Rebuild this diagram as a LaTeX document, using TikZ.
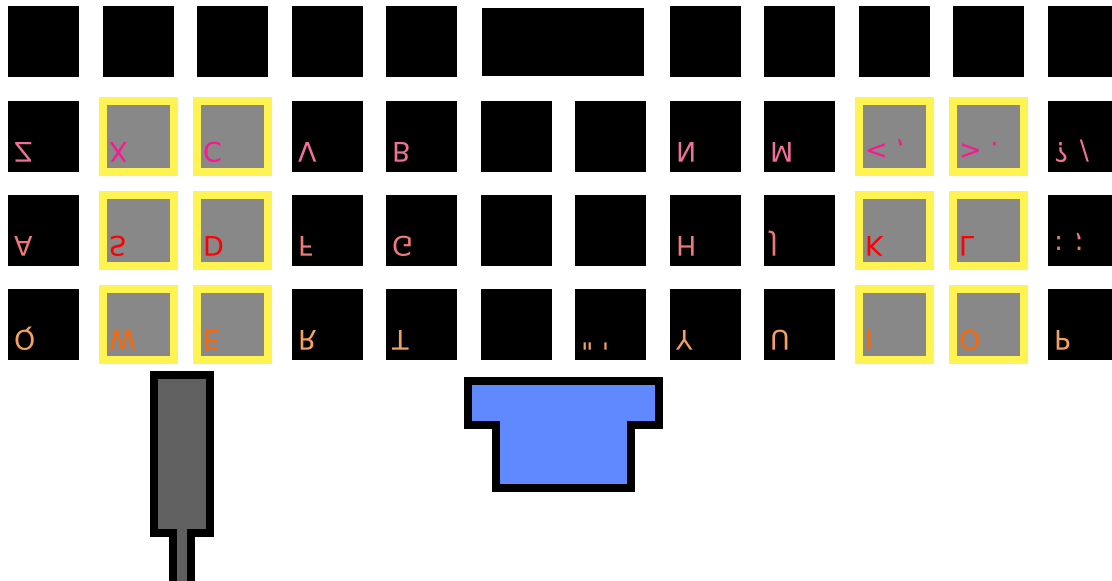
\documentclass[tikz,border=0pt]{standalone}
\usepackage{fontspec}
\newfontfamily\lblfont{DejaVu Sans}
\definecolor{keygray}{HTML}{888888}
\definecolor{hiyellow}{HTML}{FFF352}
\definecolor{pinkA}{HTML}{F0709A}
\definecolor{coralA}{HTML}{F07878}
\definecolor{sandA}{HTML}{F4A060}
\definecolor{pinkB}{HTML}{FF1493}
\definecolor{redB}{HTML}{FF0000}
\definecolor{orangeB}{HTML}{FF6600}
\definecolor{stickgray}{HTML}{606060}
\definecolor{padblue}{HTML}{6088FF}
\begin{document}
\begin{tikzpicture}[x=1pt,y=-1pt,
  keybox/.style={anchor=north west, minimum width=71pt, minimum height=71pt, inner sep=0pt, outer sep=0pt, fill=black},
  hikey/.style={keybox, fill=keygray, draw=hiyellow, line width=8pt},
  widekey/.style={anchor=north west, minimum width=162pt, minimum height=68pt, inner sep=0pt, outer sep=0pt, fill=black},
  keylabel/.style={anchor=base west, inner sep=0pt, outer sep=0pt, yscale=-1, font=\lblfont\fontsize{27}{30}\selectfont},
  outline/.style={draw=black, line width=8pt, line join=miter}]
\useasboundingbox (0,0) rectangle (1112,581);
\clip (0,0) rectangle (1112,581);
% top row
\foreach \c/\x in {1/8,2/103,3/197,4/292,5/386,8/670,9/764,10/859,11/953,12/1048}
  \node[keybox] (k-1-\c) at (\x,6) {};
\node[widekey] (k-1-wide) at (482,8) {};
% rows 2-4
\foreach \r/\y in {2/101,3/195,4/289}{
  \foreach \c/\x in {1/8,4/292,5/386,6/481,7/575,8/670,9/764,12/1048}
    \node[keybox] (k-\r-\c) at (\x,\y) {};
  \foreach \c/\x in {2/103,3/197,10/859,11/953}
    \node[hikey] (k-\r-\c) at (\x,\y) {};
}
% row 2 labels
\foreach \c/\x/\t/\col in {1/8/{Z}/pinkA,2/103/{X}/pinkB,3/197/{C}/pinkB,4/292/{V}/pinkA,5/386/{B}/pinkA,8/670/{N}/pinkA,9/764/{M}/pinkA,10/859/{< ,}/pinkB,11/953/{> .}/pinkB,12/1048/{? /}/pinkA}
  \node[keylabel, text=\col] (l-2-\c) at (\x+6,142) {\t};
% row 3 labels
\foreach \c/\x/\t/\col in {1/8/{A}/coralA,2/103/{S}/redB,3/197/{D}/redB,4/292/{F}/coralA,5/386/{G}/coralA,8/670/{H}/coralA,9/764/{J}/coralA,10/859/{K}/redB,11/953/{L}/redB,12/1048/{: ;}/coralA}
  \node[keylabel, text=\col] (l-3-\c) at (\x+6,236) {\t};
% row 4 labels
\foreach \c/\x/\t/\col in {1/8/{Q}/sandA,2/103/{W}/orangeB,3/197/{E}/orangeB,4/292/{R}/sandA,5/386/{T}/sandA,7/575/{" '}/sandA,8/670/{Y}/sandA,9/764/{U}/sandA,10/859/{I}/orangeB,11/953/{O}/orangeB,12/1048/{P}/sandA}
  \node[keylabel, text=\col] (l-4-\c) at (\x+6,330) {\t};
% stick
\draw[outline, fill=stickgray] (154,375) -- (210,375) -- (210,533) -- (191,533) -- (191,600) -- (173,600) -- (173,533) -- (154,533) -- cycle;
% blue pad
\draw[outline, fill=padblue] (468,381) -- (659,381) -- (659,425) -- (631,425) -- (631,488) -- (496,488) -- (496,425) -- (468,425) -- cycle;
\end{tikzpicture}
\end{document}
